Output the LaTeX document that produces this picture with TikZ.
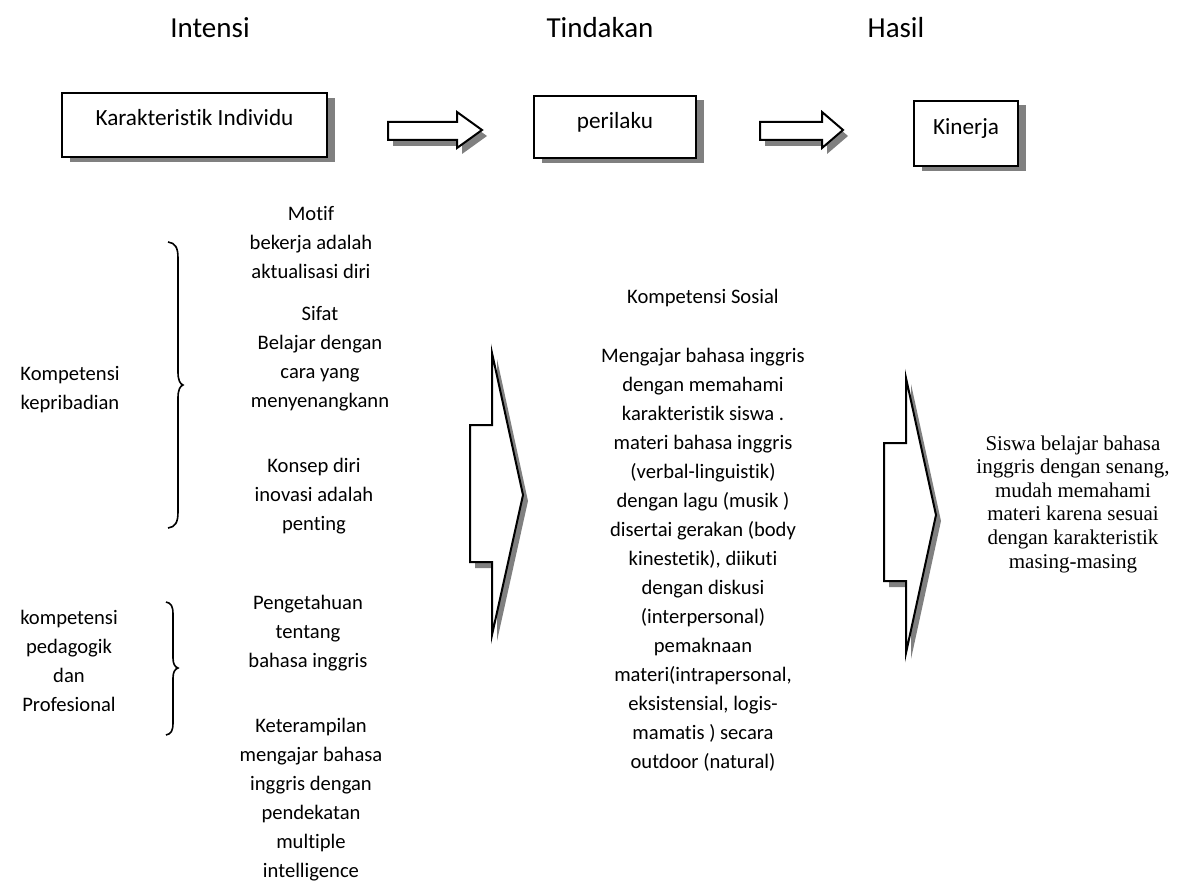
\documentclass[tikz,border=0pt]{standalone}
\usepackage{fontspec}
\setmainfont{Carlito}[Ligatures=NoCommon]
\newfontfamily\serifroman{Liberation Serif}
\definecolor{shadowgray}{HTML}{808080}
\begin{document}
\begin{tikzpicture}[x=0.5pt,y=-0.5pt,
  frame/.style={draw=black, fill=white, line width=1pt},
  shade/.style={fill=shadowgray, draw=none},
  bracestyle/.style={draw=black, line width=0.8pt},
  body/.style={align=center, inner sep=0pt, font=\fontsize{10.3}{14.5}\selectfont},
  ttl/.style={inner sep=0pt, font=\fontsize{14.5}{17}\selectfont},
  boxtext/.style={inner sep=0pt, anchor=base, font=\fontsize{11.6}{14}\selectfont},
  serifbody/.style={align=center, inner sep=0pt, font=\serifroman\fontsize{10.5}{11.8}\selectfont}]
\useasboundingbox (0,0) rectangle (1196,888);

% titles
\node[ttl] (t1) at (210,28) {Intensi};
\node[ttl] (t2) at (600,28) {Tindakan};
\node[ttl] (t3) at (896,28) {Hasil};

% top boxes with shadows
\fill[shade] (70,98) rectangle (335,162);
\node[frame, minimum width=132.5pt, minimum height=32pt] (kar) at (194.5,125) {};
\node[boxtext] (kartext) at (194.5,125.5) {Karakteristik Individu};

\fill[shade] (542,100) rectangle (704,163);
\node[frame, minimum width=81pt, minimum height=31pt] (per) at (615,127) {};
\node[boxtext] (pertext) at (615,128.5) {perilaku};

\fill[shade] (922,105) rectangle (1026,171);
\node[frame, minimum width=52pt, minimum height=32.5pt] (kin) at (966,133.5) {};
\node[boxtext] (kintext) at (966,135) {Kinerja};

% small block arrows
\fill[shade, shift={(5,6)}] (388,122) -- (457,122) -- (457,112) -- (482,130) -- (457,148) -- (457,140) -- (388,140) -- cycle;
\draw[frame] (388,122) -- (457,122) -- (457,112) -- (482,130) -- (457,148) -- (457,140) -- (388,140) -- cycle;
\fill[shade, shift={(5,6)}] (760,122) -- (822,122) -- (822,112) -- (843,130) -- (822,148) -- (822,140) -- (760,140) -- cycle;
\draw[frame] (760,122) -- (822,122) -- (822,112) -- (843,130) -- (822,148) -- (822,140) -- (760,140) -- cycle;

% big block arrows
\fill[shade, shift={(5,6)}] (470,425) -- (492,425) -- (492,353) -- (523,495) -- (492,635) -- (492,562) -- (470,562) -- cycle;
\draw[frame] (470,425) -- (492,425) -- (492,353) -- (523,495) -- (492,635) -- (492,562) -- (470,562) -- cycle;
\fill[shade, shift={(5,6)}] (884,443) -- (906,443) -- (906,378) -- (936,515) -- (906,653) -- (906,581) -- (884,581) -- cycle;
\draw[frame] (884,443) -- (906,443) -- (906,378) -- (936,515) -- (906,653) -- (906,581) -- (884,581) -- cycle;

% braces
\draw[bracestyle] (168,242) .. controls (175,243) and (178,247) .. (178,258) -- (178,372) .. controls (178,380) and (180,384) .. (183,385) .. controls (180,386) and (178,390) .. (178,398) -- (178,512) .. controls (178,523) and (175,527) .. (168,528);
\draw[bracestyle] (166,602) .. controls (171,603) and (173,606) .. (173,614) -- (173,658) .. controls (173,664) and (175,667) .. (178,668) .. controls (175,669) and (173,672) .. (173,678) -- (173,723) .. controls (173,731) and (171,734) .. (166,735);

% left labels
\node[body] (kp) at (70,390) {Kompetensi\\kepribadian};
\node[body] (kpp) at (69,661) {kompetensi\\pedagogik\\dan\\Profesional};

% middle-left column
\node[body] (motif) at (311,242) {Motif\\bekerja adalah\\aktualisasi diri};
\node[body] (sifat) at (320,359) {Sifat\\Belajar dengan\\cara yang\\menyenangkann};
\node[body] (konsep) at (314,496) {Konsep diri\\inovasi adalah\\penting};
\node[body] (penget) at (308,633) {Pengetahuan\\tentang\\bahasa inggris};
\node[body] (ketr) at (311,800) {Keterampilan\\mengajar bahasa\\inggris dengan\\pendekatan\\multiple\\intelligence};

% middle column
\node[body] (ks) at (703,298) {Kompetensi Sosial};
\node[body] (ksb) at (703,560) {Mengajar bahasa inggris\\dengan memahami\\karakteristik siswa .\\materi bahasa inggris\\(verbal-linguistik)\\dengan lagu (musik )\\disertai gerakan (body\\kinestetik), diikuti\\dengan diskusi\\(interpersonal)\\pemaknaan\\materi(intrapersonal,\\eksistensial, logis-\\mamatis ) secara\\outdoor (natural)};

% right text
\node[serifbody] (hasil) at (1073,504) {Siswa belajar bahasa\\inggris dengan senang,\\mudah memahami\\materi karena sesuai\\dengan karakteristik\\masing-masing};
\end{tikzpicture}
\end{document}
